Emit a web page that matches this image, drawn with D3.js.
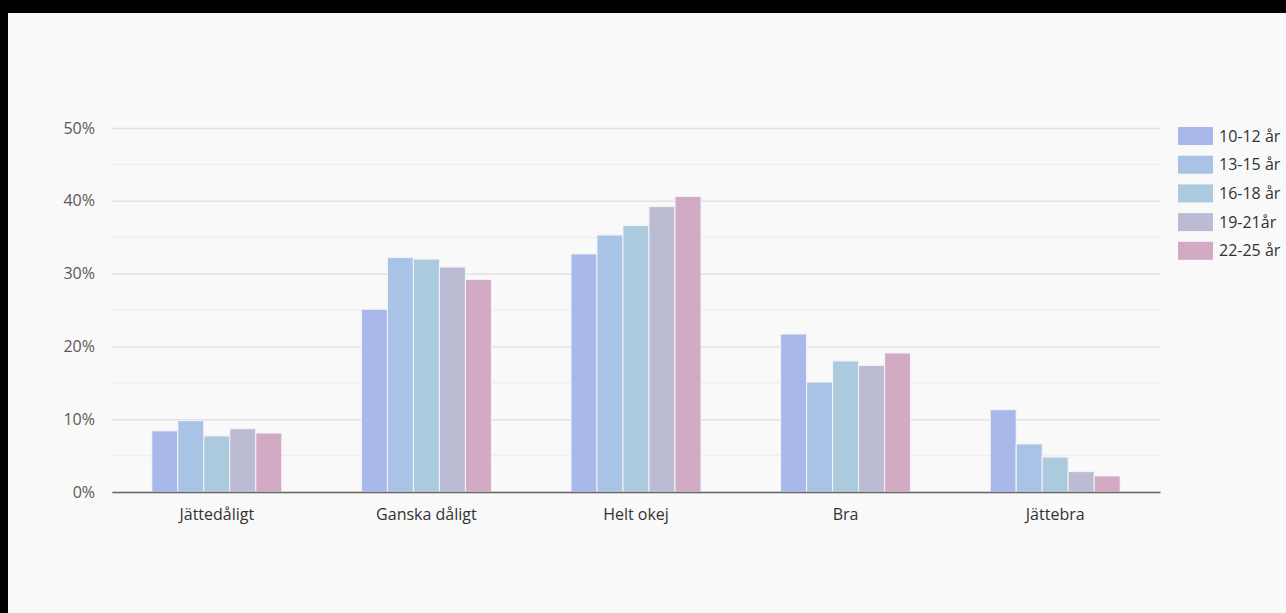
<!DOCTYPE html>
<html>
<head>
<meta charset="utf-8">
<script src="https://cdn.jsdelivr.net/npm/d3@7"></script>
<style>
  html, body { margin: 0; padding: 0; background: #000; }
  #chart { position: absolute; left: 8px; top: 13px; }
  text { font-family: "Open Sans", Lato, sans-serif; }
</style>
</head>
<body>
<div id="chart"></div>
<script>
    var categories = ["Jättedåligt", "Ganska dåligt", "Helt okej", "Bra", "Jättebra"];
    var groups = ["10-12 år", "13-15 år", "16-18 år", "19-21år", "22-25 år"];
    var colors = ["#a9b8ea", "#a9c3e7", "#abcadd", "#bbbcd3", "#d3aac4"];

    // percent per age group, one list per category
    var jattedaligt = [8.4, 9.8, 7.7, 8.7, 8.1];
    var ganskaDaligt = [25.1, 32.2, 32.0, 30.9, 29.2];
    var heltOkej = [32.7, 35.3, 36.6, 39.2, 40.6];
    var bra = [21.7, 15.1, 18.0, 17.4, 19.1];
    var jattebra = [11.3, 6.6, 4.8, 2.8, 2.2];
    var values = [jattedaligt, ganskaDaligt, heltOkej, bra, jattebra];

    var yTicks = [0, 10, 20, 30, 40, 50];
    var yMinor = [5, 15, 25, 35, 45];

    var svgWidth = 1278;
    var svgHeight = 600;
    var margin = { top: 115, left: 104 };
    var plot_width = 1048;
    var plot_height = 364;
    var fontStack = "'Open Sans', Lato, sans-serif";

    var svg = d3.select("#chart")
        .append("svg")
        .attr("width", svgWidth)
        .attr("height", svgHeight)
        .style("display", "block");

    svg.append("rect")
        .attr("width", svgWidth)
        .attr("height", svgHeight)
        .attr("fill", "#f9f9f9");

    var chartGroup = svg.append("g")
        .attr("transform", `translate(${margin.left}, ${margin.top})`);

    var xScale = d3.scaleBand()
        .domain(categories)
        .range([0, plot_width]);

    var xInner = d3.scaleBand()
        .domain(groups)
        .range([0, 130]);

    var yScale = d3.scaleLinear()
        .domain([0, 50])
        .range([plot_height, 0]);

    // minor grid
    chartGroup.selectAll(".minor")
        .data(yMinor)
        .enter()
        .append("line")
        .attr("x1", 0)
        .attr("x2", plot_width)
        .attr("y1", d => yScale(d))
        .attr("y2", d => yScale(d))
        .attr("stroke", "#efefef")
        .attr("stroke-width", 1.5);

    var yAxis = d3.axisLeft(yScale)
        .tickValues(yTicks)
        .tickSize(-plot_width)
        .tickPadding(17)
        .tickFormat(d => d + "%");

    var yg = chartGroup.append("g").call(yAxis);
    yg.select(".domain").remove();
    yg.selectAll(".tick line")
        .attr("stroke", "#e2e2e2")
        .attr("stroke-width", 1.5);
    yg.selectAll(".tick text")
        .attr("fill", "#5a5a5a")
        .attr("font-size", "16px")
        .style("font-family", fontStack);

    var groupSel = chartGroup.selectAll(".cat")
        .data(categories)
        .enter()
        .append("g")
        .attr("transform", d => `translate(${xScale(d) + (xScale.bandwidth() - 130) / 2}, 0)`);

    groupSel.selectAll("rect")
        .data((d, i) => values[i].map((v, j) => ({ group: groups[j], value: v, color: colors[j] })))
        .enter()
        .append("rect")
        .attr("x", d => xInner(d.group))
        .attr("width", xInner.bandwidth())
        .attr("y", d => yScale(d.value))
        .attr("height", d => plot_height - yScale(d.value))
        .attr("fill", d => d.color)
        .attr("stroke", "#f4f4f8")
        .attr("stroke-width", 1);

    var xAxis = d3.axisBottom(xScale).tickSize(0).tickPadding(17);
    var xg = chartGroup.append("g")
        .attr("transform", `translate(0, ${plot_height})`)
        .call(xAxis);
    xg.select(".domain")
        .attr("stroke", "#666")
        .attr("stroke-width", 1.5);
    xg.selectAll(".tick text")
        .attr("fill", "#333")
        .attr("font-size", "16px")
        .style("font-family", fontStack);

    // legend
    var legend = svg.append("g")
        .attr("transform", "translate(1170, 114)");

    var items = legend.selectAll(".item")
        .data(groups)
        .enter()
        .append("g")
        .attr("transform", (d, i) => `translate(0, ${i * 28.7})`);

    items.append("rect")
        .attr("width", 35)
        .attr("height", 18)
        .attr("fill", (d, i) => colors[i]);

    items.append("text")
        .attr("x", 41)
        .attr("y", 9)
        .attr("dy", "0.35em")
        .attr("fill", "#333")
        .attr("font-size", "16px")
        .text(d => d);
</script>
</body>
</html>
